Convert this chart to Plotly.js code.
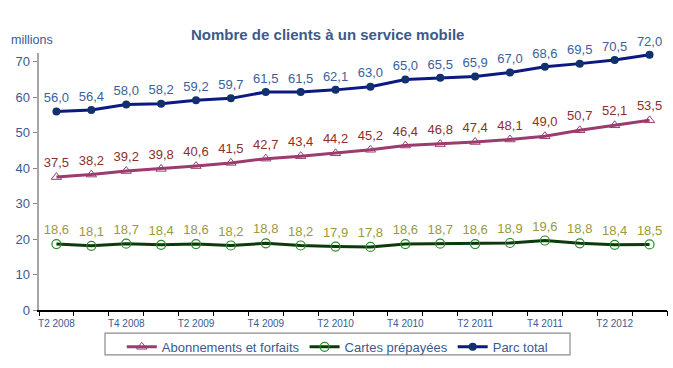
<!DOCTYPE html>
<html>
<head>
<meta charset="utf-8">
<script src="https://cdn.plot.ly/plotly-3.0.1.min.js"></script>
<style>html,body{margin:0;padding:0;background:#fff;}#chart{width:673px;height:368px;}</style>
</head>
<body>
<div id="chart"></div>
<script>
const quarters = ["T2 2008","T3 2008","T4 2008","T1 2009","T2 2009","T3 2009","T4 2009","T1 2010","T2 2010","T3 2010","T4 2010","T1 2011","T2 2011","T3 2011","T4 2011","T1 2012","T2 2012","T3 2012"];
const abonnements = [37.5,38.2,39.2,39.8,40.6,41.5,42.7,43.4,44.2,45.2,46.4,46.8,47.4,48.1,49.0,50.7,52.1,53.5];
const cartes = [18.6,18.1,18.7,18.4,18.6,18.2,18.8,18.2,17.9,17.8,18.6,18.7,18.6,18.9,19.6,18.8,18.4,18.5];
const parcTotal = [56.0,56.4,58.0,58.2,59.2,59.7,61.5,61.5,62.1,63.0,65.0,65.5,65.9,67.0,68.6,69.5,70.5,72.0];
const tickLabelIdx = [0,2,4,6,8,10,12,14,16];
const yTicks = [0,10,20,30,40,50,60,70];

const xs = quarters.map((q,i)=>i);
const fmt = v => v.toFixed(1).replace('.', ',');
const font = 'Arial, "Liberation Sans", sans-serif';
const blueText = '#3b5a91';

const traces = [
  {x: xs, y: abonnements, name: 'Abonnements et forfaits', mode: 'lines+markers+text',
   line: {color: '#9b3b6e', width: 3},
   marker: {symbol: 'triangle-up-open', size: 9, color: '#9b3b6e', line: {width: 1}},
   text: abonnements.map(fmt), textposition: 'top center', cliponaxis: false,
   textfont: {family: font, size: 13, color: '#8c2f2a'}},
  {x: xs, y: cartes, name: 'Cartes prépayées', mode: 'lines+markers+text',
   line: {color: '#0b3a0b', width: 3},
   marker: {symbol: 'circle-open', size: 9, color: '#2a8a2a', line: {width: 1.2}},
   text: cartes.map(fmt), textposition: 'top center', cliponaxis: false,
   textfont: {family: font, size: 13, color: '#9a9a3c'}},
  {x: xs, y: parcTotal, name: 'Parc total', mode: 'lines+markers+text',
   line: {color: '#0a1a80', width: 3},
   marker: {symbol: 'circle', size: 8, color: '#13306e'},
   text: parcTotal.map(fmt), textposition: 'top center', cliponaxis: false,
   textfont: {family: font, size: 13, color: '#3b5f9a'}},
  {x: [-0.5, 17.5], y: [0, 0], xaxis: 'x2', mode: 'lines', line: {width: 0}, hoverinfo: 'skip', showlegend: false}
];

const boundaries = [];
for (let i = 0; i <= quarters.length; i++) boundaries.push(i - 0.5);

const layout = {
  width: 673, height: 368,
  margin: {l: 39, r: 6, t: 53, b: 55},
  paper_bgcolor: '#fff', plot_bgcolor: '#fff',
  font: {family: font, color: blueText},
  showlegend: true,
  title: {text: '<b>Nombre de clients à un service mobile</b>', x: 0.487, xanchor: 'center', y: 0.905, yanchor: 'middle',
          font: {family: font, size: 15, color: '#3d5a8a'}},
  xaxis: {range: [-0.5, 17.5], tickmode: 'array', tickvals: tickLabelIdx, ticktext: tickLabelIdx.map(i=>quarters[i]),
          ticks: '', ticklabelstandoff: 3, showgrid: false, zeroline: false, showline: true, linecolor: '#000', linewidth: 1.5,
          tickfont: {family: font, size: 10, color: blueText}, fixedrange: true},
  xaxis2: {overlaying: 'x', anchor: 'y', range: [-0.5, 17.5], tickmode: 'array', tickvals: boundaries,
           ticks: 'outside', ticklen: 5, tickcolor: '#000', tickwidth: 1, showticklabels: false,
           showgrid: false, zeroline: false, showline: false},
  yaxis: {range: [0, 72.5], tickmode: 'array', tickvals: yTicks, ticks: 'outside', ticklen: 4, tickcolor: '#888',
          showgrid: false, zeroline: false, showline: true, linecolor: '#a6a6a6', linewidth: 2.5,
          tickfont: {family: font, size: 13, color: blueText}},
  legend: {orientation: 'h', x: 0.475, xanchor: 'center', y: -0.085, yanchor: 'top',
           font: {family: font, size: 13, color: blueText}, borderwidth: 0, bgcolor: 'rgba(0,0,0,0)'},
  shapes: [{type: 'rect', xref: 'paper', yref: 'paper', x0: (105-39)/628, x1: (570-39)/628,
            y0: -(358-312.7)/259.7, y1: -(336-312.7)/259.7, line: {color: '#8c8c8c', width: 1.2}}],
  annotations: [{text: 'millions', xref: 'paper', yref: 'paper', x: -0.048, y: 1.05, xanchor: 'left', yanchor: 'middle',
                 showarrow: false, font: {family: font, size: 12.5, color: blueText}}]
};

Plotly.newPlot('chart', traces, layout, {staticPlot: true, displayModeBar: false});
</script>
</body>
</html>
